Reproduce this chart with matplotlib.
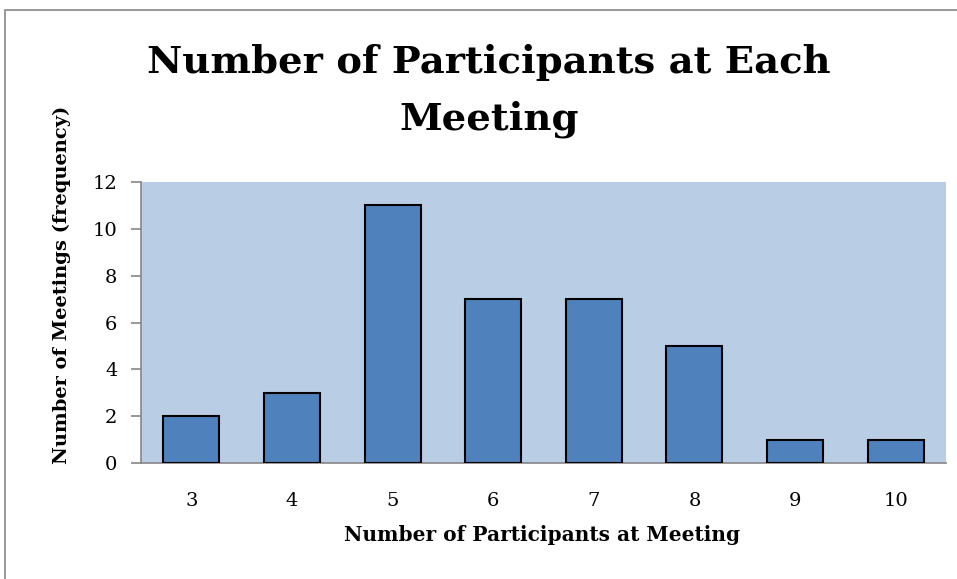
import matplotlib
matplotlib.use("Agg")
import matplotlib.pyplot as plt
from matplotlib.patches import Rectangle

categories = ["3", "4", "5", "6", "7", "8", "9", "10"]
counts = [2, 3, 11, 7, 7, 5, 1, 1]
yticks = [0, 2, 4, 6, 8, 10, 12]

serif = "DejaVu Serif"
plt.rcParams["font.family"] = [serif]

W, H = 957, 579
fig = plt.figure(figsize=(W / 100, H / 100), dpi=100)
fig.patch.set_facecolor("white")

# outer chart border
fig.add_artist(Rectangle((5 / W, 1 - 580 / H), (960 - 5) / W, (580 - 10) / H,
                         transform=fig.transFigure, fill=False,
                         edgecolor="#868686", linewidth=1.2))

ax = fig.add_axes([141 / W, 1 - 463 / H, (946 - 141) / W, (463 - 182) / H])
ax.set_facecolor("#B9CDE5")
x = list(range(len(categories)))
ax.bar(x, counts, width=0.556, color="#4F81BD", edgecolor="black", linewidth=1.5, zorder=3)
ax.set_xlim(-0.5, len(categories) - 0.5)
ax.set_ylim(0, 12)
ax.set_yticks(yticks)
ax.set_xticks(x)
ax.set_xticklabels(categories)

for s in ["top", "right"]:
    ax.spines[s].set_visible(False)
ax.spines["left"].set_color("#868686")
ax.spines["bottom"].set_color("#868686")
ax.spines["left"].set_linewidth(1.2)
ax.spines["bottom"].set_linewidth(1.2)
ax.tick_params(axis="y", direction="out", length=7, color="#868686", width=1.2,
               pad=10, labelsize=14)
ax.tick_params(axis="x", length=0, pad=21, labelsize=14)

fig.text(542 / W, 1 - 535 / H, "Number of Participants at Meeting",
         fontweight="bold", fontsize=14.5, ha="center", va="center")
fig.text(62 / W, 1 - 285 / H, "Number of Meetings (frequency)", rotation=90,
         fontweight="bold", fontsize=14, ha="center", va="center")

fig.text(489 / W, 1 - 91 / H, "Number of Participants at Each\nMeeting",
         fontweight="bold", fontsize=27.7, ha="center", va="center",
         linespacing=1.65)

fig.savefig("out.png", dpi=100)
